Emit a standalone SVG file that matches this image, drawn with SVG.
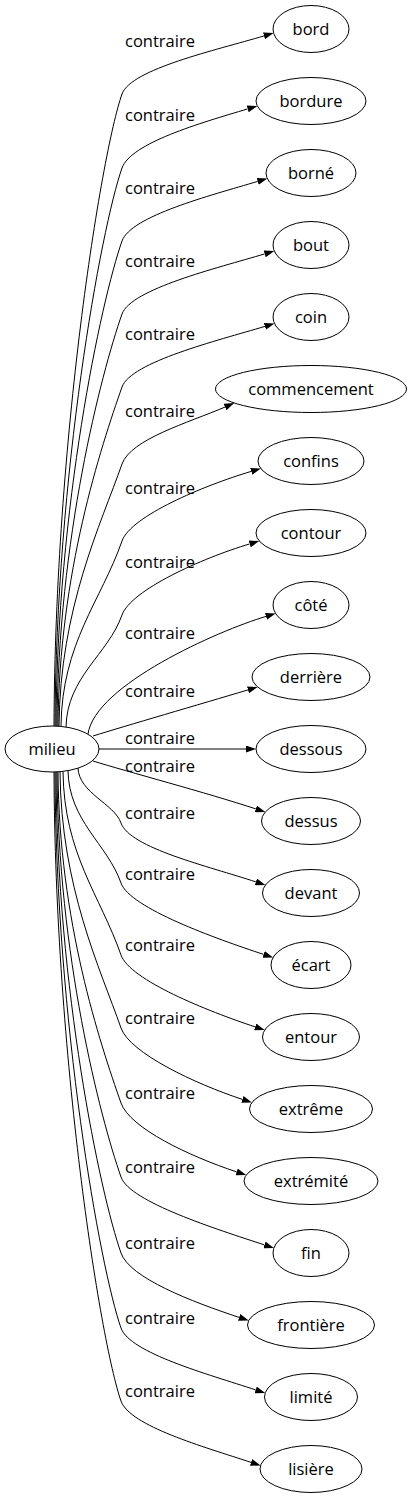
<svg xmlns="http://www.w3.org/2000/svg" width="413" height="1499" viewBox="0 0 413 1499">
<defs>
<style>
.node ellipse{fill:none;stroke:#000;stroke-width:1}
#n_milieu ellipse{fill:#fff}
text{font-family:"Open Sans","Noto Sans",sans-serif;font-size:16.5px;fill:#000;text-anchor:middle}
.edges path{fill:none;stroke:#000;stroke-width:1;marker-end:url(#arr)}
</style>
<marker id="arr" markerWidth="10" markerHeight="7" refX="0" refY="3.5" orient="auto" markerUnits="userSpaceOnUse"><path d="M0,0 L10,3.5 L0,7 z" fill="#000" stroke="none"/></marker>
</defs>
<rect width="413" height="1499" fill="#fff"/>
<g class="edges" id="edges">
<path d="M54,726 C55,442 101,154 122,94 C131,69 216.1,50.2 264,35.9"/>
<path d="M55,726 C56,475 101,228 122,168 C131,143 199.8,123.2 247.7,108.9"/>
<path d="M56,726 C57,508 101,301 122,241 C131,216 209.8,195.7 257.7,181.4"/>
<path d="M57,726 C58,540 101,374 122,314 C131,289 216.8,268.2 264.7,253.9"/>
<path d="M58,726 C59,573 101,447 122,387 C131,362 217,340.7 264.9,326.4"/>
<path d="M59,726 C60,608 101,524 122,464 C131,439 188.3,422.8 225.1,407"/>
<path d="M61,726 C62,643 101,601 122,541 C131,516 203.3,485.7 251.2,471.4"/>
<path d="M66,727 C67,677 108.3,654.2 122,615 C131,590 201.8,558.2 249.7,543.9"/>
<path d="M88,734 C95,685 218.1,630.7 266,616.4"/>
<path d="M93,736 C125,726 200.1,704.2 248,689.9"/>
<path d="M99,749 L246,749"/>
<path d="M93,761 C125,771 208.3,793.2 255.8,808.9"/>
<path d="M78,768 C79,793 114.3,803.8 121,823 C129.75,848 208.4,866.2 255.9,881.9"/>
<path d="M68,770.6 C69,821.2 107.2,843.7 121,883 C129.75,908 216.1,938.7 263.6,954.4"/>
<path d="M63,771.4 C64,854 100,895 121,955 C129.75,980 207.7,1011.2 255.2,1026.9"/>
<path d="M60,771.7 C61,887 100,968 121,1028 C129.75,1053 194.9,1083.7 242.4,1099.4"/>
<path d="M58,772 C59,921 100,1043 121,1103 C129.75,1128 189.2,1156.2 236.7,1171.9"/>
<path d="M57,772 C58,954 100,1117 121,1177 C129.75,1202 216.9,1229.2 264.4,1244.9"/>
<path d="M56,772 C57,988 100,1193 121,1253 C129.75,1278 191.7,1301.7 239.2,1317.4"/>
<path d="M55,772 C56,1022 100,1268 121,1328 C129.75,1353 208.2,1374.2 255.7,1389.9"/>
<path d="M54,772 C55,1055 100,1341 121,1401 C129.75,1426 203.6,1446.7 251.1,1462.4"/>
<text x="160" y="47">contraire</text>
<text x="160" y="121">contraire</text>
<text x="160" y="194">contraire</text>
<text x="160" y="267">contraire</text>
<text x="160" y="340">contraire</text>
<text x="160" y="417">contraire</text>
<text x="160" y="494">contraire</text>
<text x="160" y="568">contraire</text>
<text x="160" y="639">contraire</text>
<text x="160" y="697">contraire</text>
<text x="160" y="744">contraire</text>
<text x="160" y="772">contraire</text>
<text x="160" y="819">contraire</text>
<text x="160" y="880">contraire</text>
<text x="160" y="951">contraire</text>
<text x="160" y="1024">contraire</text>
<text x="160" y="1099">contraire</text>
<text x="160" y="1173">contraire</text>
<text x="160" y="1249">contraire</text>
<text x="160" y="1324">contraire</text>
<text x="160" y="1397">contraire</text>
</g>
<g class="node" id="n_milieu"><ellipse cx="52" cy="749" rx="47" ry="23"/><text x="52" y="754.5">milieu</text></g>
<g class="node" id="n_bord"><ellipse cx="311" cy="29" rx="38" ry="23.5"/><text x="311" y="35">bord</text></g>
<g class="node" id="n_bordure"><ellipse cx="311" cy="101" rx="55" ry="23.5"/><text x="311" y="107">bordure</text></g>
<g class="node" id="n_borne"><ellipse cx="311" cy="173" rx="45" ry="23.5"/><text x="311" y="179">borné</text></g>
<g class="node" id="n_bout"><ellipse cx="311" cy="245" rx="38" ry="23.5"/><text x="311" y="251">bout</text></g>
<g class="node" id="n_coin"><ellipse cx="311" cy="317" rx="38" ry="23.5"/><text x="311" y="323">coin</text></g>
<g class="node" id="n_commencement"><ellipse cx="311" cy="389" rx="95.5" ry="23.5"/><text x="311" y="395">commencement</text></g>
<g class="node" id="n_confins"><ellipse cx="311" cy="461" rx="53" ry="23.5"/><text x="311" y="467">confins</text></g>
<g class="node" id="n_contour"><ellipse cx="311" cy="533" rx="55" ry="23.5"/><text x="311" y="539">contour</text></g>
<g class="node" id="n_cote"><ellipse cx="311" cy="605" rx="38" ry="23.5"/><text x="311" y="611">côté</text></g>
<g class="node" id="n_derriere"><ellipse cx="311" cy="677" rx="59" ry="23.5"/><text x="311" y="683">derrière</text></g>
<g class="node" id="n_dessous"><ellipse cx="311" cy="749" rx="55" ry="23.5"/><text x="311" y="755">dessous</text></g>
<g class="node" id="n_dessus"><ellipse cx="311" cy="821" rx="49.5" ry="23.5"/><text x="311" y="827">dessus</text></g>
<g class="node" id="n_devant"><ellipse cx="311" cy="893" rx="48.5" ry="23.5"/><text x="311" y="899">devant</text></g>
<g class="node" id="n_ecart"><ellipse cx="311" cy="965" rx="40" ry="23.5"/><text x="311" y="971">écart</text></g>
<g class="node" id="n_entour"><ellipse cx="311" cy="1037" rx="48.5" ry="23.5"/><text x="311" y="1043">entour</text></g>
<g class="node" id="n_extreme"><ellipse cx="311" cy="1109" rx="61.5" ry="23.5"/><text x="311" y="1115">extrême</text></g>
<g class="node" id="n_extremite"><ellipse cx="311" cy="1181" rx="67" ry="23.5"/><text x="311" y="1187">extrémité</text></g>
<g class="node" id="n_fin"><ellipse cx="311" cy="1253" rx="38" ry="23.5"/><text x="311" y="1259">fin</text></g>
<g class="node" id="n_frontiere"><ellipse cx="311" cy="1325" rx="63.5" ry="23.5"/><text x="311" y="1331">frontière</text></g>
<g class="node" id="n_limite"><ellipse cx="311" cy="1397" rx="46.5" ry="23.5"/><text x="311" y="1403">limité</text></g>
<g class="node" id="n_lisiere"><ellipse cx="311" cy="1469" rx="51" ry="23.5"/><text x="311" y="1475">lisière</text></g>
</svg>
